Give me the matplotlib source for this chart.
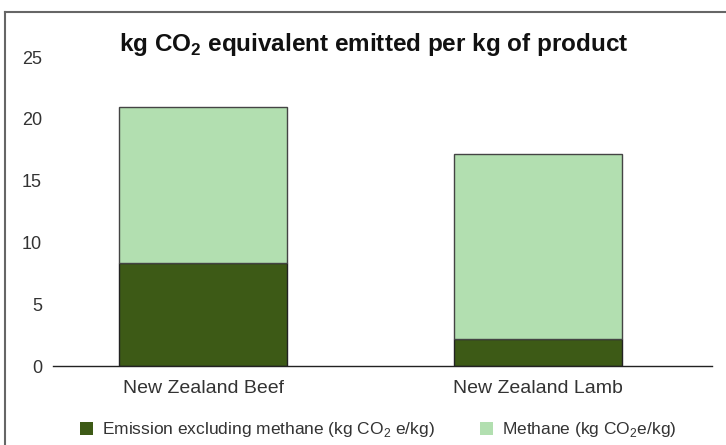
import matplotlib
matplotlib.use("Agg")
import matplotlib.pyplot as plt
from matplotlib.lines import Line2D
from matplotlib.patches import Patch

# emissions per kg of product (kg CO2e/kg)
products = ["New Zealand Beef", "New Zealand Lamb"]
non_methane = [8.3, 2.2]
methane = [12.7, 15.0]
y_ticks = [0, 5, 10, 15, 20, 25]

dark_green = "#3d5a16"
light_green = "#b2dfb0"
text_col = "#333333"

plt.rcParams["font.family"] = ["Liberation Sans", "DejaVu Sans"]
plt.rcParams["mathtext.fontset"] = "custom"
plt.rcParams["mathtext.rm"] = "Liberation Sans"
plt.rcParams["mathtext.bf"] = "Liberation Sans:bold"

fig = plt.figure(figsize=(7.26, 4.45), dpi=100)
ax = fig.add_axes([0.073, 0.1775, 0.908, 0.694])

x = range(len(products))
ax.bar(x, non_methane, width=0.5, color=dark_green, edgecolor="#222222",
       linewidth=1, zorder=2)
ax.bar(x, methane, width=0.5, bottom=non_methane, color=light_green,
       edgecolor="#444444", linewidth=1, zorder=2)

ax.set_xlim(-0.448, 1.52)
ax.set_ylim(0, 25)
ax.set_yticks(y_ticks)
ax.set_xticks(list(x))
ax.set_xticklabels(products)
ax.tick_params(axis="y", length=0, labelsize=13, colors=text_col, pad=8)
ax.tick_params(axis="x", length=0, labelsize=14, colors=text_col, pad=10)
for side in ["left", "right", "top"]:
    ax.spines[side].set_visible(False)
ax.spines["bottom"].set_color("#222222")
ax.spines["bottom"].set_linewidth(1)

fig.text(0.515, 0.885, r"kg CO$_\mathbf{2}$ equivalent emitted per kg of product",
         ha="center", va="baseline", fontsize=17.5, fontweight="bold",
         color="#111111")

handles = [Patch(facecolor=dark_green, edgecolor="none"),
           Patch(facecolor=light_green, edgecolor="none")]
labels = [r"Emission excluding methane (kg CO$_2$ e/kg)",
          r"Methane (kg CO$_2$e/kg)"]
fig.legend(handles, labels, loc="center", bbox_to_anchor=(0.521, 0.034),
           ncol=2, frameon=False, fontsize=12.5, labelcolor=text_col,
           handlelength=0.75, handleheight=0.75, handletextpad=0.5,
           columnspacing=2.6)

# outer frame: top and left edges only
fig.add_artist(Line2D([5 / 726, 5 / 726], [0, 1 - 12 / 445],
                      transform=fig.transFigure, color="#666666", linewidth=1.5))
fig.add_artist(Line2D([5 / 726, 1], [1 - 12 / 445, 1 - 12 / 445],
                      transform=fig.transFigure, color="#666666", linewidth=1.5))

fig.savefig("out.png", dpi=100)
